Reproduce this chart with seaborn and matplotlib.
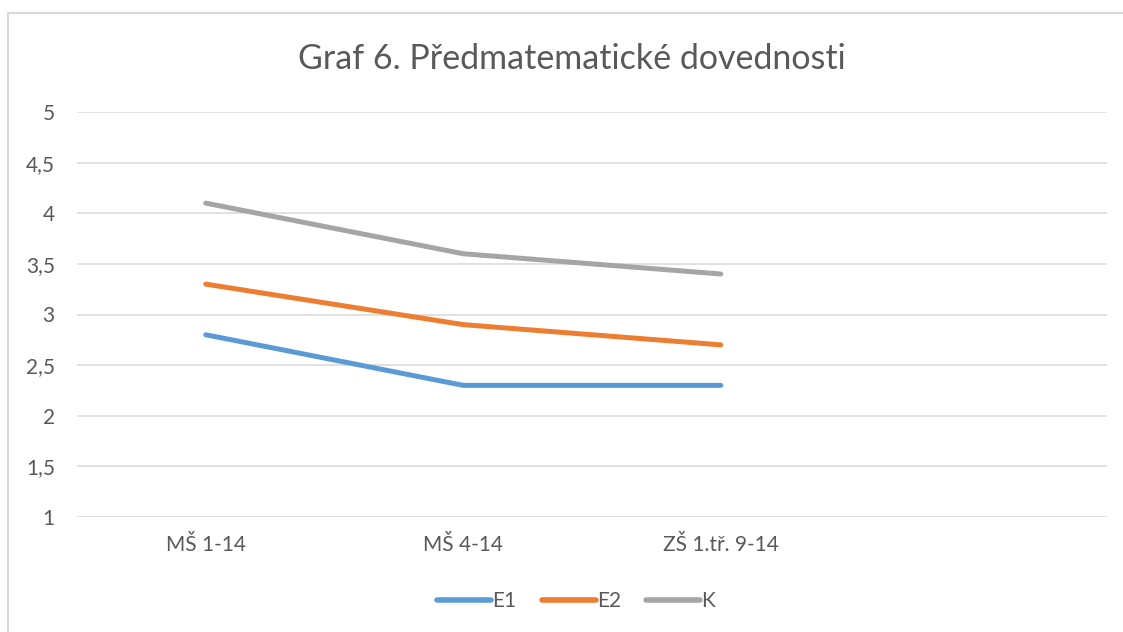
import numpy as np
import pandas as pd
import matplotlib
matplotlib.use("Agg")
import matplotlib.pyplot as plt
from matplotlib.lines import Line2D
import seaborn as sns

categories = ["MŠ 1-14", "MŠ 4-14", "ZŠ 1.tř. 9-14"]
e1 = [2.8, 2.3, 2.3]
e2 = [3.3, 2.9, 2.7]
k = [4.1, 3.6, 3.4]
series_names = ["E1", "E2", "K"]
colors = ["#5B9BD5", "#ED7D31", "#A5A5A5"]
yticks = [1, 1.5, 2, 2.5, 3, 3.5, 4, 4.5, 5]

rows = []
for name, vals in zip(series_names, [e1, e2, k]):
    for i, (c, v) in enumerate(zip(categories, vals)):
        rows.append({"pos": i, "kat": c, "hodnota": v, "serie": name})
df = pd.DataFrame(rows)

sns.set_style("white")
plt.rcParams['font.family'] = ['Lato', 'DejaVu Sans']
txt = "#595959"
grid = "#D9D9D9"

fig = plt.figure(figsize=(11.23, 6.32), dpi=100)
ax = fig.add_axes([77 / 1123, 1 - 517 / 632, 1030 / 1123, 405 / 632])

sns.lineplot(data=df, x="pos", y="hodnota", hue="serie", palette=colors,
             linewidth=3.6, ax=ax, solid_capstyle="round")

ax.set_xlim(-0.5, 3.5)
ax.set_ylim(1, 5)
ax.set_yticks(yticks)
ax.set_yticklabels([("%g" % t).replace(".", ",") for t in yticks])
ax.set_xticks(range(4))
ax.set_xticklabels(categories + [""])
ax.set_xlabel("")
ax.set_ylabel("")
for t in yticks:
    ax.axhline(t, color=grid, lw=1.1, zorder=0)
for s in ax.spines.values():
    s.set_visible(False)
ax.tick_params(axis="both", length=0, labelsize=15, colors=txt)
ax.tick_params(axis="y", pad=16)
ax.tick_params(axis="x", pad=13)

leg = ax.legend(loc="center", bbox_to_anchor=(576 / 1123, 1 - 601 / 632),
                bbox_transform=fig.transFigure, ncol=3, frameon=False,
                fontsize=15, handlelength=2.6, handletextpad=0.05,
                columnspacing=1.2)
for t in leg.get_texts():
    t.set_color(txt)
for h in leg.get_lines():
    h.set_linewidth(4)
    h.set_solid_capstyle("round")

fig.text(572 / 1123, 1 - 59 / 632, "Graf 6. Předmatematické dovednosti",
         ha="center", va="center", fontsize=24.5, color=txt)

# chart border: only left and top edges lie inside the image
bx, by = 8 / 1123, 1 - 13 / 632
fig.add_artist(Line2D([bx, bx], [0, by], transform=fig.transFigure,
                      color="#D9D9D9", lw=1.5))
fig.add_artist(Line2D([bx, 1], [by, by], transform=fig.transFigure,
                      color="#D9D9D9", lw=1.5))

fig.savefig("out.png", dpi=100)
